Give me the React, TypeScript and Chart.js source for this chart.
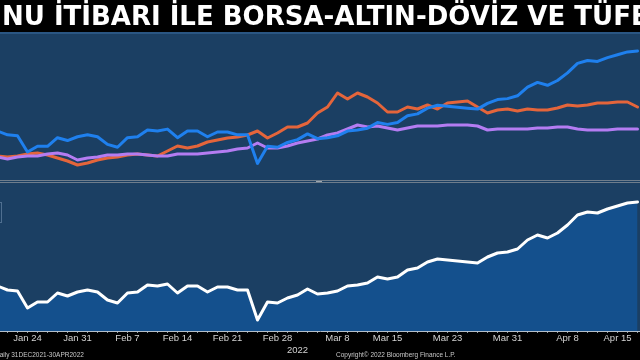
import React, { useEffect, useRef } from "react";
import { Chart, registerables } from "chart.js";

Chart.register(...registerables);

// Trading days shown on the x axis (Bloomberg daily, weekdays)
const tradingDays = [
  "Jan 19", "Jan 20", "Jan 21", "Jan 24", "Jan 25", "Jan 26", "Jan 27", "Jan 28", "Jan 31",
  "Feb 1", "Feb 2", "Feb 3", "Feb 4", "Feb 7", "Feb 8", "Feb 9", "Feb 10", "Feb 11",
  "Feb 14", "Feb 15", "Feb 16", "Feb 17", "Feb 18", "Feb 21", "Feb 22", "Feb 23", "Feb 24", "Feb 25",
  "Feb 28", "Mar 1", "Mar 2", "Mar 3", "Mar 4", "Mar 7", "Mar 8", "Mar 9", "Mar 10", "Mar 11",
  "Mar 14", "Mar 15", "Mar 16", "Mar 17", "Mar 18", "Mar 21", "Mar 22", "Mar 23", "Mar 24", "Mar 25",
  "Mar 28", "Mar 29", "Mar 30", "Mar 31", "Apr 1", "Apr 4", "Apr 5", "Apr 6", "Apr 7", "Apr 8",
  "Apr 11", "Apr 12", "Apr 13", "Apr 14", "Apr 15", "Apr 18", "Apr 19",
];

const tickDays = ["Jan 24", "Jan 31", "Feb 7", "Feb 14", "Feb 21", "Feb 28", "Mar 8", "Mar 15", "Mar 23", "Mar 31", "Apr 8", "Apr 15"];
const yearLabel = "2022";
const yearLabelDay = "Mar 2";

// BIST (bottom panel, white line; also the blue line of the top panel)
const borsa = [
  45, 41, 40, 23, 29, 29, 38, 35, 39, 41, 39, 31, 28, 38, 39, 46, 45, 47, 38, 45, 45, 39, 44, 44, 41, 41,
  11, 29, 28, 33, 36, 42, 37, 38, 40, 45, 46, 48, 54, 52, 54, 61, 63, 69, 72, 71, 70, 69, 68, 74, 78, 79,
  82, 91, 96, 93, 98, 106, 116, 119, 118, 122, 125, 128, 129,
];

// Gold (orange) and FX (purple), top panel
const altin = [
  25, 24, 25, 27, 28, 26, 23, 20, 16, 18, 21, 23, 24, 26, 27, 26, 25, 30, 35, 33, 35, 39, 41, 43, 44, 46,
  50, 43, 48, 54, 54, 58, 68, 74, 88, 82, 88, 84, 78, 69, 69, 74, 72, 76, 72, 78, 79, 80, 74, 68, 71, 72,
  70, 72, 71, 71, 73, 76, 75, 76, 78, 78, 79, 79, 74,
];
const doviz = [
  24, 22, 24, 25, 25, 27, 28, 26, 21, 23, 24, 26, 26, 27, 27, 26, 25, 25, 27, 27, 27, 28, 29, 30, 32, 33,
  38, 33, 33, 35, 38, 40, 42, 46, 48, 52, 56, 54, 55, 53, 51, 53, 55, 55, 55, 56, 56, 56, 55, 51, 52, 52,
  52, 52, 53, 53, 54, 54, 52, 51, 51, 51, 52, 52, 52,
];

const TITLE = "NU İTİBARI İLE BORSA-ALTIN-DÖVİZ VE TÜFE";
const FOOT_LEFT = "Daily 31DEC2021-30APR2022";
const FOOT_RIGHT = "Copyright© 2022 Bloomberg Finance L.P.";

const PANEL_BG = "#1b3f63";
const STRIP = "#2a5683";
const FILL = "#14508d";
const BLUE = "#1f80ee";
const ORANGE = "#e4653b";
const PURPLE = "#b47cf2";

const pts = (arr: number[]) => arr.map((v, i) => ({ x: i, y: v }));

const panelPlugin = {
  id: "panels",
  beforeDraw(chart: any) {
    const { ctx, chartArea: a } = chart;
    ctx.save();
    ctx.fillStyle = "#000";
    ctx.fillRect(0, 0, chart.width, chart.height);
    ctx.fillStyle = PANEL_BG;
    ctx.fillRect(a.left, a.top, a.right - a.left, a.bottom - a.top);
    ctx.fillStyle = STRIP;
    ctx.fillRect(a.left, a.top - 2, a.right - a.left, 2);
    ctx.restore();
  },
  beforeDatasetsDraw(chart: any) {
    const { ctx, chartArea: a } = chart;
    const y = Math.round(chart.scales.yT.getPixelForValue(0));
    ctx.save();
    ctx.fillStyle = "#6e7d8c";
    ctx.fillRect(a.left, y - 1, a.right - a.left, 1);
    ctx.fillRect(a.left, y + 1, a.right - a.left, 1);
    ctx.fillStyle = "#9aa6b2";
    ctx.fillRect(316, y, 6, 1);
    // cut-off legend box at the left edge of the lower panel
    ctx.strokeStyle = "#4f6f90";
    ctx.lineWidth = 1;
    ctx.strokeRect(-10.5, y + 21.5, 12, 20);
    ctx.restore();
  },
};

export default function App() {
  const ref = useRef<HTMLCanvasElement | null>(null);

  useEffect(() => {
    document.body.style.margin = "0";
    const canvas = ref.current;
    if (!canvas) return;
    const tickPos = new Map<number, string>();
    tickDays.forEach((d) => tickPos.set(tradingDays.indexOf(d), d));
    const yearPos = tradingDays.indexOf(yearLabelDay);

    const chart = new Chart(canvas, {
      type: "line",
      data: {
        datasets: [
          { label: "BORSA", data: pts(borsa), yAxisID: "yTB", borderColor: BLUE, borderWidth: 3, pointRadius: 0, order: 1 },
          { label: "DÖVİZ", data: pts(doviz), yAxisID: "yT", borderColor: PURPLE, borderWidth: 3, pointRadius: 0, order: 2 },
          { label: "ALTIN", data: pts(altin), yAxisID: "yT", borderColor: ORANGE, borderWidth: 3, pointRadius: 0, order: 3 },
          {
            label: "BIST",
            data: pts(borsa),
            yAxisID: "yB",
            borderColor: "#ffffff",
            borderWidth: 3,
            pointRadius: 0,
            fill: "start",
            backgroundColor: FILL,
            order: 4,
          },
        ],
      },
      options: {
        responsive: false,
        animation: false,
        devicePixelRatio: 1,
        layout: { padding: { top: 34, left: 0, right: 0, bottom: 0 }, autoPadding: false },
        elements: { line: { tension: 0, borderJoinStyle: "round", borderCapStyle: "round" } },
        plugins: { legend: { display: false }, tooltip: { enabled: false }, title: { display: false } },
        scales: {
          x: {
            type: "linear",
            min: 0.25,
            max: 64.25,
            afterBuildTicks: (s: any) => {
              s.ticks = tradingDays.map((_, i) => ({ value: i })).filter((t) => t.value >= 1);
            },
            afterFit: (s: any) => {
              s.height = 29;
            },
            ticks: {
              autoSkip: false,
              maxRotation: 0,
              minRotation: 0,
              padding: 0,
              color: "#d2d2d2",
              font: { family: "Liberation Sans", size: 9.5 },
              callback: (v: any) => {
                const n = Math.round(Number(v));
                if (tickPos.has(n)) return tickPos.get(n);
                if (n === yearPos) return ["", yearLabel];
                return "";
              },
            },
            grid: { drawOnChartArea: false, drawTicks: true, tickLength: 2, color: "#8c98a4" },
            border: { display: true, color: "#b4bec8", width: 1 },
          },
          yT: { type: "linear", display: false, min: -150, max: 147 },
          yTB: { type: "linear", display: false, min: -164.8, max: 146.8 },
          yB: { type: "linear", display: false, min: 0, max: 297 },
        },
      } as any,
      plugins: [panelPlugin],
    });
    return () => chart.destroy();
  }, []);

  return (
    <div style={{ position: "fixed", left: 0, top: 0, width: 640, height: 360, background: "#000", overflow: "hidden" }}>
      <canvas ref={ref} width={640} height={360} style={{ position: "absolute", left: 0, top: 0, width: 640, height: 360 }} />
      <div
        style={{
          position: "absolute",
          left: 2,
          top: 0,
          height: 32,
          lineHeight: "33px",
          whiteSpace: "nowrap",
          color: "#fff",
          fontFamily: "'DejaVu Sans', Verdana, sans-serif",
          fontWeight: "bold",
          fontSize: 26,
        }}
      >
        {TITLE}
      </div>
      <div
        style={{
          position: "absolute",
          left: -5,
          top: 351,
          whiteSpace: "nowrap",
          color: "#c8c8c8",
          fontFamily: "'Liberation Sans', Arial, sans-serif",
          fontSize: 6.5,
        }}
      >
        {FOOT_LEFT}
      </div>
      <div
        style={{
          position: "absolute",
          left: 336,
          top: 351,
          whiteSpace: "nowrap",
          color: "#c8c8c8",
          fontFamily: "'Liberation Sans', Arial, sans-serif",
          fontSize: 6.5,
        }}
      >
        {FOOT_RIGHT}
      </div>
    </div>
  );
}
